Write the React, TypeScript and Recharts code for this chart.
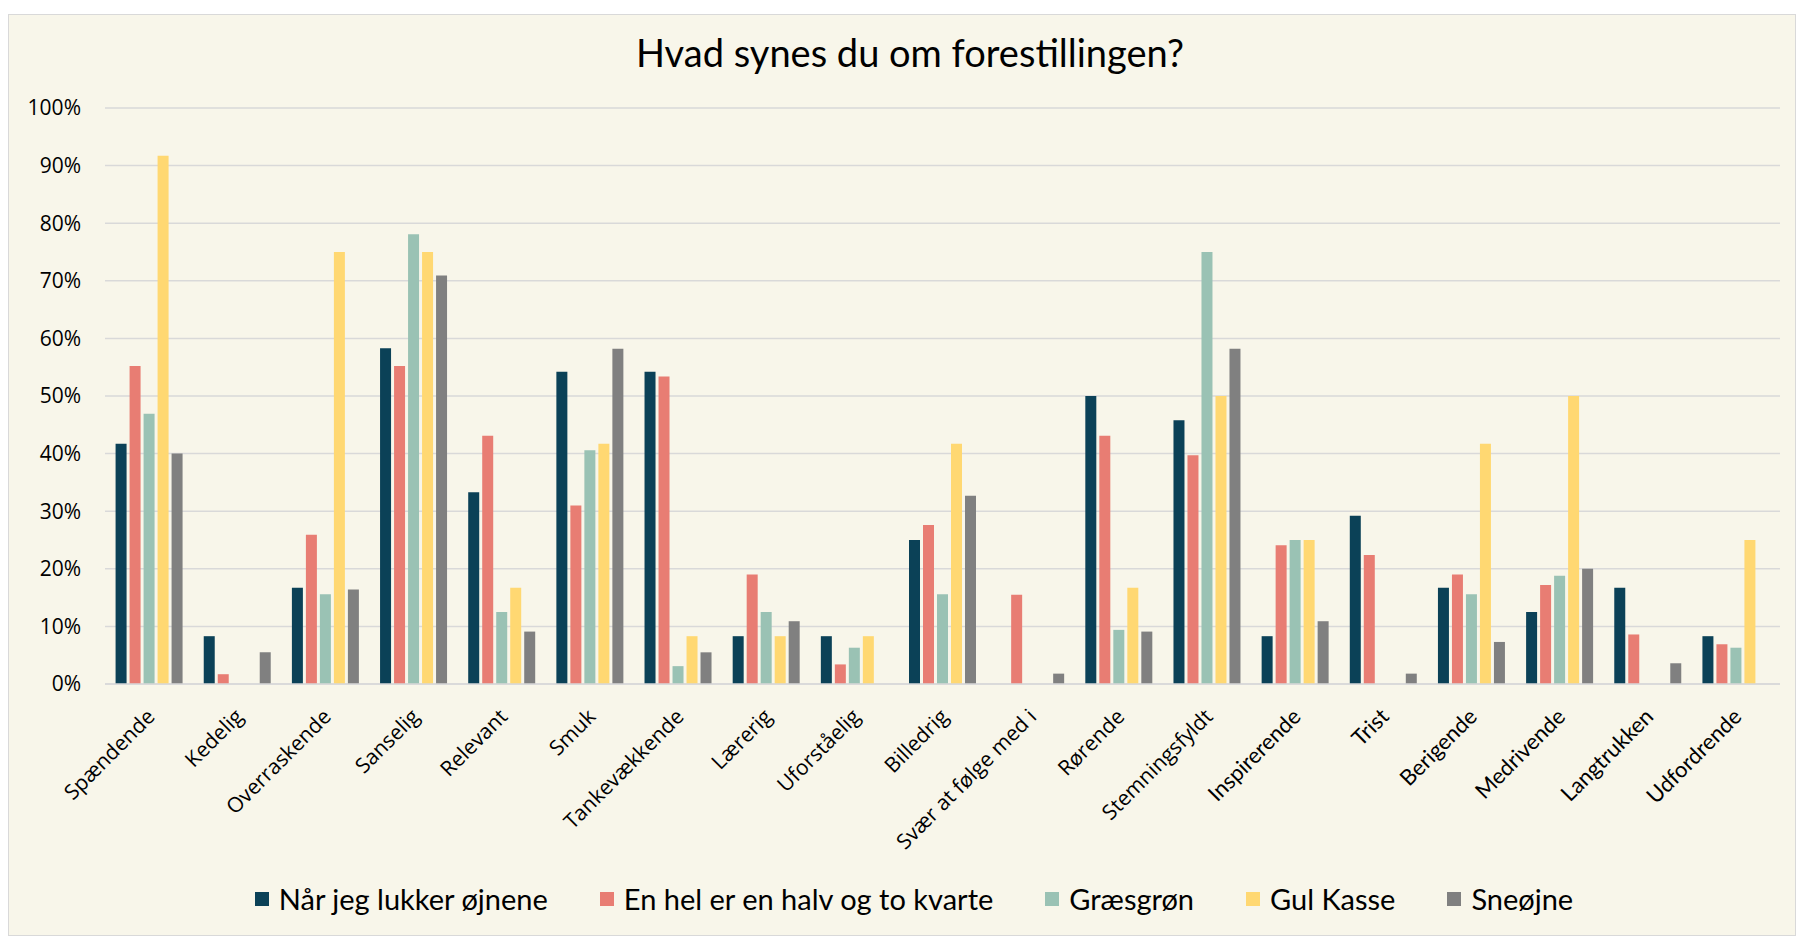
import React from 'react'
import { BarChart, Bar, XAxis, YAxis, CartesianGrid } from 'recharts'

const NAVY = '#0B4157'
const CORAL = '#E87D73'
const SAGE = '#9AC2B4'
const SUN = '#FFD872'
const GREY = '#808080'
const BG = '#F8F6EA'

const categories = [
  'Spændende', 'Kedelig', 'Overraskende', 'Sanselig', 'Relevant', 'Smuk', 'Tankevækkende',
  'Lærerig', 'Uforståelig', 'Billedrig', 'Svær at følge med i', 'Rørende', 'Stemningsfyldt',
  'Inspirerende', 'Trist', 'Berigende', 'Medrivende', 'Langtrukken', 'Udfordrende',
]

const naarJeg = [41.7, 8.3, 16.7, 58.3, 33.3, 54.2, 54.2, 8.3, 8.3, 25, 0, 50, 45.8, 8.3, 29.2, 16.7, 12.5, 16.7, 8.3]
const enHel = [55.2, 1.7, 25.9, 55.2, 43.1, 31.0, 53.4, 19.0, 3.4, 27.6, 15.5, 43.1, 39.7, 24.1, 22.4, 19.0, 17.2, 8.6, 6.9]
const graesgroen = [46.9, 0, 15.6, 78.1, 12.5, 40.6, 3.1, 12.5, 6.3, 15.6, 0, 9.4, 75, 25, 0, 15.6, 18.8, 0, 6.3]
const gulKasse = [91.7, 0, 75, 75, 16.7, 41.7, 8.3, 8.3, 8.3, 41.7, 0, 16.7, 50, 25, 0, 41.7, 50, 0, 25]
const sneoejne = [40, 5.5, 16.4, 70.9, 9.1, 58.2, 5.5, 10.9, 0, 32.7, 1.8, 9.1, 58.2, 10.9, 1.8, 7.3, 20, 3.6, 0]

const yTicks = [0, 10, 20, 30, 40, 50, 60, 70, 80, 90, 100]

const series = [
  { key: 'a', name: 'Når jeg lukker øjnene', color: NAVY, values: naarJeg },
  { key: 'b', name: 'En hel er en halv og to kvarte', color: CORAL, values: enHel },
  { key: 'c', name: 'Græsgrøn', color: SAGE, values: graesgroen },
  { key: 'd', name: 'Gul Kasse', color: SUN, values: gulKasse },
  { key: 'e', name: 'Sneøjne', color: GREY, values: sneoejne },
]

const data = categories.map((cat, i) => {
  const row: any = { cat }
  series.forEach(s => { row[s.key] = s.values[i] })
  return row
})

const SANS = '"Open Sans", sans-serif'
const GEO = 'Lato, sans-serif'

const XTick = ({ x, y, payload, index }: any) => {
  // the last labels use a different face in the original
  const font = index >= 13 ? GEO : SANS
  return (
    <g transform={`translate(${x + 7},${y + 26})`}>
      <text textAnchor="end" transform="rotate(-45)" fontFamily={font} fontSize={index >= 13 ? 22 : 21} fill="#000">
        {payload.value}
      </text>
    </g>
  )
}

export default function App() {
  return (
    <div style={{ paddingTop: 6 }}>
      <div
        style={{
          position: 'relative', width: 1786, height: 920, background: BG,
          border: '1px solid #D9D9D9',
        }}
      >
        <div
          style={{
            position: 'absolute', top: 14, left: 8, width: '100%', textAlign: 'center',
            fontFamily: GEO, fontSize: 38, color: '#000',
          }}
        >
          Hvad synes du om forestillingen?
        </div>
        <BarChart
          width={1786}
          height={920}
          data={data}
          margin={{ top: 93, right: 15, left: 0, bottom: 80 }}
          barCategoryGap="12%"
          barGap={3}
        >
          <CartesianGrid vertical={false} stroke="#D9D9D9" strokeWidth={1.5} />
          <XAxis
            dataKey="cat"
            interval={0}
            tickLine={false}
            axisLine={{ stroke: '#D9D9D9', strokeWidth: 1.5 }}
            height={171}
            tick={<XTick />}
          />
          <YAxis
            domain={[0, 100]}
            ticks={yTicks}
            tickFormatter={(v: number) => `${v}%`}
            axisLine={false}
            tickLine={false}
            width={96}
            tickMargin={18}
            tick={{ fontSize: 21, fill: '#000', fontFamily: SANS }}
          />
          {series.map(s => (
            <Bar key={s.key} dataKey={s.key} name={s.name} fill={s.color} isAnimationActive={false} />
          ))}
        </BarChart>
        <div
          style={{
            position: 'absolute', top: 866, left: 12, width: '100%', display: 'flex',
            justifyContent: 'center', gap: 52, fontFamily: GEO, fontSize: 29, color: '#000',
          }}
        >
          {series.map(s => (
            <div key={s.key} style={{ display: 'flex', alignItems: 'center' }}>
              <span style={{ display: 'inline-block', width: 14, height: 14, background: s.color, marginRight: 10 }} />
              {s.name}
            </div>
          ))}
        </div>
      </div>
    </div>
  )
}
